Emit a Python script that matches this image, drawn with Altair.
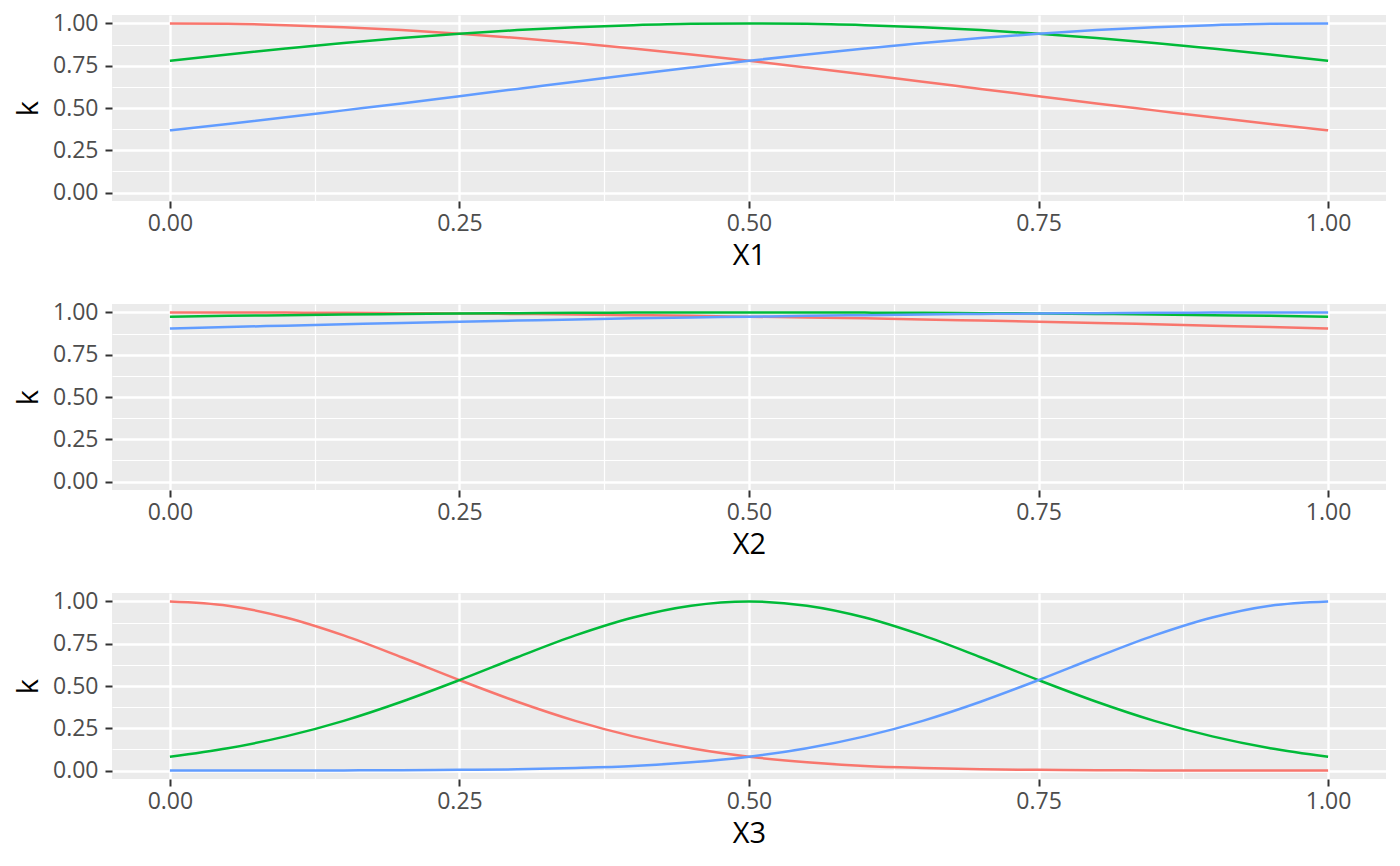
import altair as alt
import pandas as pd

x_vals = [0.00, 0.05, 0.10, 0.15, 0.20, 0.25, 0.30, 0.35, 0.40, 0.45, 0.50,
          0.55, 0.60, 0.65, 0.70, 0.75, 0.80, 0.85, 0.90, 0.95, 1.00]

# Panel X1
p1_red = [1.000, 0.998, 0.990, 0.978, 0.961, 0.939, 0.914, 0.885, 0.852, 0.817, 0.779,
          0.739, 0.698, 0.655, 0.613, 0.570, 0.527, 0.486, 0.445, 0.406, 0.368]
p1_green = [0.779, 0.817, 0.852, 0.885, 0.914, 0.939, 0.961, 0.978, 0.990, 0.998, 1.000,
            0.998, 0.990, 0.978, 0.961, 0.939, 0.914, 0.885, 0.852, 0.817, 0.779]
p1_blue = [0.368, 0.406, 0.445, 0.486, 0.527, 0.570, 0.613, 0.655, 0.698, 0.739, 0.779,
           0.817, 0.852, 0.885, 0.914, 0.939, 0.961, 0.978, 0.990, 0.998, 1.000]

# Panel X2
p2_red = [1.000, 1.000, 0.999, 0.998, 0.996, 0.994, 0.991, 0.988, 0.984, 0.980, 0.975,
          0.970, 0.965, 0.959, 0.952, 0.945, 0.938, 0.930, 0.922, 0.914, 0.905]
p2_green = [0.975, 0.980, 0.984, 0.988, 0.991, 0.994, 0.996, 0.998, 0.999, 1.000, 1.000,
            1.000, 0.999, 0.998, 0.996, 0.994, 0.991, 0.988, 0.984, 0.980, 0.975]
p2_blue = [0.905, 0.914, 0.922, 0.930, 0.938, 0.945, 0.952, 0.959, 0.965, 0.970, 0.975,
           0.980, 0.984, 0.988, 0.991, 0.994, 0.996, 0.998, 0.999, 1.000, 1.000]

# Panel X3
p3_red = [1.000, 0.975, 0.905, 0.799, 0.670, 0.535, 0.407, 0.294, 0.202, 0.132, 0.082,
          0.049, 0.027, 0.015, 0.007, 0.004, 0.002, 0.001, 0.000, 0.000, 0.000]
p3_green = [0.082, 0.132, 0.202, 0.294, 0.407, 0.535, 0.670, 0.799, 0.905, 0.975, 1.000,
            0.975, 0.905, 0.799, 0.670, 0.535, 0.407, 0.294, 0.202, 0.132, 0.082]
p3_blue = [0.000, 0.000, 0.000, 0.001, 0.002, 0.004, 0.007, 0.015, 0.027, 0.049, 0.082,
           0.132, 0.202, 0.294, 0.407, 0.535, 0.670, 0.799, 0.905, 0.975, 1.000]

series_names = ["1", "2", "3"]
series_colors = ["#F8766D", "#00BA38", "#619CFF"]
major_ticks = [0.0, 0.25, 0.5, 0.75, 1.0]
minor_ticks = [0.125, 0.375, 0.625, 0.875]

FONT = "Open Sans"
W, H = 1274, 186


def panel(red, green, blue, title):
    rows = []
    for name, ys in zip(series_names, [red, green, blue]):
        for xv, yv in zip(x_vals, ys):
            rows.append({"x": xv, "k": yv, "s": name})
    df = pd.DataFrame(rows)
    xs = alt.Scale(domain=[-0.05, 1.05], nice=False, zero=False)
    ys = alt.Scale(domain=[-0.05, 1.05], nice=False, zero=False)

    axis_common = dict(
        values=major_ticks, format=".2f", grid=True, gridColor="white", gridWidth=2.4,
        domain=False, tickColor="#333333", tickSize=7, tickWidth=2,
        labelColor="#4D4D4D", labelFont=FONT, labelFontSize=23,
        titleFont=FONT, titleFontSize=29, titleFontWeight="normal", titleColor="black",
    )
    lines = alt.Chart(df).mark_line(strokeWidth=2.5, interpolate="monotone").encode(
        x=alt.X("x:Q", scale=xs, axis=alt.Axis(orient="bottom", title=title, labelPadding=4,
                                               titlePadding=6, **axis_common)),
        y=alt.Y("k:Q", scale=ys, axis=alt.Axis(orient="left", title="k", labelPadding=7,
                                               titlePadding=9, **axis_common)),
        color=alt.Color("s:N", scale=alt.Scale(domain=series_names, range=series_colors),
                        legend=None),
        order=alt.Order("s:N"),
    )
    minor = alt.Chart(df).mark_point(opacity=0).encode(
        x=alt.X("x:Q", scale=xs, axis=alt.Axis(
            orient="top", values=minor_ticks, grid=True, gridColor="white", gridWidth=1.2,
            labels=False, ticks=False, domain=False, title=None)),
        y=alt.Y("k:Q", scale=ys, axis=alt.Axis(
            orient="right", values=minor_ticks, grid=True, gridColor="white", gridWidth=1.2,
            labels=False, ticks=False, domain=False, title=None)),
    )
    return alt.layer(lines, minor).resolve_axis(x="independent", y="independent").properties(
        width=W, height=H, view=alt.ViewBackground(fill="#EBEBEB", strokeWidth=0))


chart = alt.vconcat(
    panel(p1_red, p1_green, p1_blue, "X1"),
    panel(p2_red, p2_green, p2_blue, "X2"),
    panel(p3_red, p3_green, p3_blue, "X3"),
    spacing=31,
).properties(
    padding={"left": 6, "top": 4, "right": 5, "bottom": 5}
).configure_view(
    fill="#EBEBEB", strokeWidth=0
).configure(background="white")

chart.save("out.html", embed_options={"renderer": "svg", "actions": False})
